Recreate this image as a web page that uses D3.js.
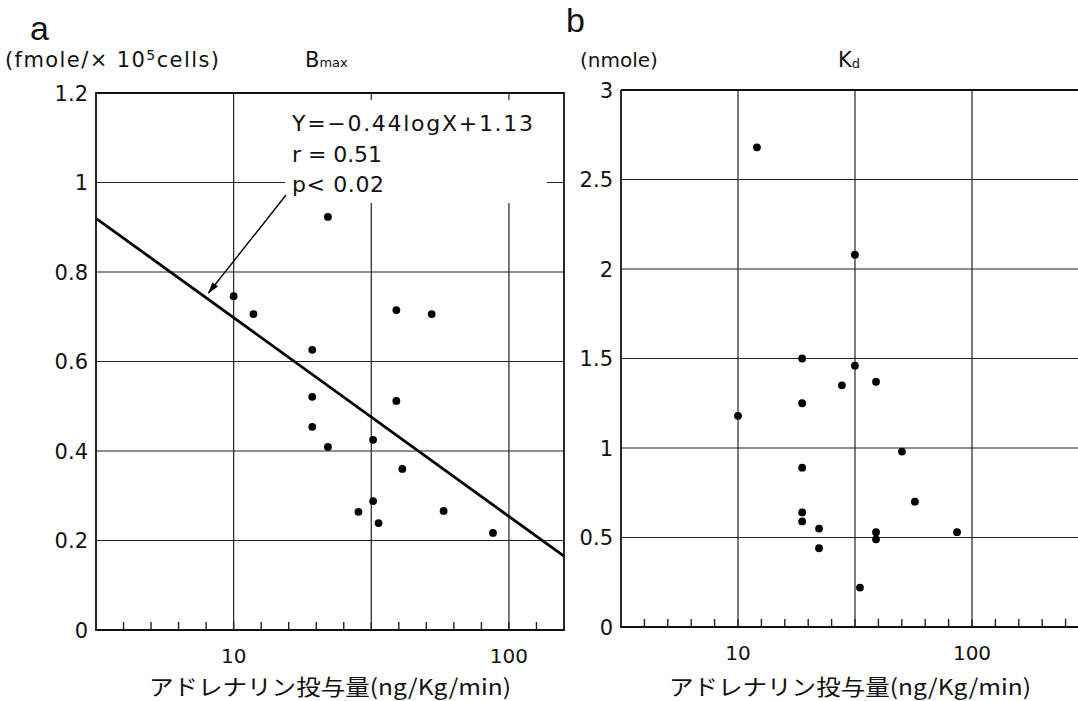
<!DOCTYPE html>
<html><head><meta charset="utf-8">
<script src="https://cdn.jsdelivr.net/npm/d3@7"></script>
<style>
html,body{margin:0;padding:0;background:#fff;}
text{font-family:"DejaVu Sans","Noto Sans",sans-serif;fill:#111;}
.jp{font-family:"Noto Sans CJK JP",sans-serif;}
</style></head>
<body><svg id="c" width="1078" height="701"></svg>
<script>
// ---- data ----
const bmaxDose  = [10, 11.8, 19.3, 19.3, 19.3, 22, 22, 32.1, 32.1, 33.6, 28.4, 39, 39, 41, 52.4, 57.9, 87.5];
const bmaxValue = [0.746, 0.706, 0.626, 0.521, 0.454, 0.409, 0.923, 0.425, 0.288, 0.239, 0.264, 0.715, 0.512, 0.36, 0.706, 0.266, 0.217];
const kdDose  = [12.05, 31.6, 18.8, 31.6, 27.8, 38.9, 18.8, 10, 18.8, 50.2, 57, 18.8, 18.8, 22.2, 22.2, 38.9, 38.9, 86.3, 33.2];
const kdValue = [2.68, 2.08, 1.50, 1.46, 1.35, 1.37, 1.25, 1.18, 0.89, 0.98, 0.70, 0.64, 0.59, 0.55, 0.44, 0.53, 0.49, 0.53, 0.22];
const fitDose  = [3.162, 158.5];
const fitValue = [0.92, 0.165];
const arrowFrom = [15.5, 0.972];
const arrowTo   = [8.1, 0.753];
const gridDose = [10, 31.62, 100];
const xTickValues = [10, 100];
const xTickLabels = ["10", "100"];
const bmaxTicks = [0, 0.2, 0.4, 0.6, 0.8, 1, 1.2];
const kdTicks = [0, 0.5, 1, 1.5, 2, 2.5, 3];
const fitText = ["Y=\u22120.44logX+1.13", "r = 0.51", "p< 0.02"];
const fitTextWidth = [241, 90, 92];
const xTitle = "アドレナリン投与量(ng/Kg/min)";

const svg = d3.select("#c");

function panel(o){
  const g = svg.append("g");
  const x = d3.scaleLog().domain(o.xdom).range(o.xr);
  const y = d3.scaleLinear().domain(o.ydom).range(o.yr);
  g.selectAll(".hg").data(o.yticks.filter(v=>v!==o.ydom[0])).join("line")
    .attr("x1", o.xr[0]).attr("x2", o.xr[1]).attr("y1", d=>y(d)).attr("y2", d=>y(d))
    .attr("stroke","#222").attr("stroke-width",1.2);
  g.selectAll(".vg").data(gridDose).join("line")
    .attr("x1", d=>x(d)).attr("x2", d=>x(d)).attr("y1", o.yr[0]).attr("y2", o.yr[1])
    .attr("stroke","#222").attr("stroke-width",1.2);
  const lo = Math.log10(o.xdom[0]), hi = Math.log10(o.xdom[1]);
  const minor = d3.range(Math.round(lo*10)+1, Math.round(hi*10)).map(k=>Math.pow(10,k/10));
  g.selectAll(".mt").data(minor).join("line")
    .attr("x1", d=>x(d)).attr("x2", d=>x(d)).attr("y1", o.yr[0]).attr("y2", o.yr[0]-8)
    .attr("stroke","#222").attr("stroke-width",1.4);
  g.append("path").attr("d",`M${o.xr[0]},${o.yr[1]}V${o.yr[0]}H${o.xr[1]}` + (o.right? `V${o.yr[1]}Z`:`M${o.xr[0]},${o.yr[1]}H${o.xr[1]}`))
    .attr("fill","none").attr("stroke","#111").attr("stroke-width",1.8);
  g.selectAll(".yl").data(o.yticks).join("text")
    .attr("x", o.xr[0]-8).attr("y", d=>y(d)).attr("dy","0.36em")
    .attr("text-anchor","end").attr("font-size",21).text(d=>d3.format("")(d));
  g.selectAll(".xl").data(xTickValues).join("text")
    .attr("x", d=>x(d)).attr("y", o.yr[0]+33)
    .attr("text-anchor","middle").attr("font-size",20).text((d,i)=>xTickLabels[i]);
  g.append("text").attr("class","jp").attr("x", o.titleX).attr("y", 695)
    .attr("text-anchor","middle").attr("font-size",22)
    .attr("textLength",362).attr("lengthAdjust","spacingAndGlyphs").text(xTitle);
  return {g,x,y};
}

// ---- panel a ----
const A = panel({xdom:[Math.pow(10,0.5), Math.pow(10,2.2)], xr:[96,564], ydom:[0,1.2], yr:[630,93],
  yticks:bmaxTicks, right:true, titleX:330});
A.g.append("rect").attr("x",285).attr("y",100).attr("width",262).attr("height",103).attr("fill","#fff");
A.g.append("path").datum(fitDose.map((d,i)=>[d,fitValue[i]]))
  .attr("d", d3.line().x(d=>A.x(d[0])).y(d=>A.y(d[1])))
  .attr("stroke","#000").attr("stroke-width",2.8).attr("fill","none");
A.g.selectAll(".pt").data(bmaxDose).join("circle")
  .attr("cx", d=>A.x(d)).attr("cy", (d,i)=>A.y(bmaxValue[i])).attr("r",3.9).attr("fill","#000");
A.g.selectAll(".ann").data(fitText).join("text")
  .attr("x",292).attr("y",(d,i)=>131+i*30.5).attr("font-size",22)
  .attr("textLength",(d,i)=>fitTextWidth[i]).attr("lengthAdjust","spacing").text(d=>d);
svg.append("defs").append("marker").attr("id","ah").attr("viewBox","0 0 12 8").attr("refX",11).attr("refY",4)
  .attr("markerWidth",12).attr("markerHeight",8).attr("markerUnits","userSpaceOnUse").attr("orient","auto")
  .append("path").attr("d","M0,0.5L12,4L0,7.5Z").attr("fill","#000");
A.g.append("line").attr("x1",A.x(arrowFrom[0])).attr("y1",A.y(arrowFrom[1]))
  .attr("x2",A.x(arrowTo[0])).attr("y2",A.y(arrowTo[1]))
  .attr("stroke","#000").attr("stroke-width",1.4).attr("marker-end","url(#ah)");

// ---- panel b ----
const B = panel({xdom:[Math.pow(10,0.5), Math.pow(10,2.5)], xr:[621,1089], ydom:[0,3], yr:[627,90],
  yticks:kdTicks, right:false, titleX:850});
B.g.selectAll(".pt").data(kdDose).join("circle")
  .attr("cx", d=>B.x(d)).attr("cy", (d,i)=>B.y(kdValue[i])).attr("r",3.9).attr("fill","#000");

// ---- headings ----
svg.append("text").attr("x",30).attr("y",40).attr("font-size",34)
  .style("font-family","'Liberation Sans',sans-serif").text("a");
svg.append("text").attr("x",566).attr("y",32).attr("font-size",34)
  .style("font-family","'Liberation Sans',sans-serif").text("b");
const u = svg.append("text").attr("x",5).attr("y",67).attr("font-size",21)
  .attr("textLength",214).attr("lengthAdjust","spacing");
u.append("tspan").text("(fmole/\u00d7 10");
u.append("tspan").attr("dy",-7).attr("font-size",14).text("5");
u.append("tspan").attr("dy",7).text("cells)");
const bm = svg.append("text").attr("x",305).attr("y",67).attr("font-size",21);
bm.append("tspan").text("B");
bm.append("tspan").attr("font-size",13).text("max");
svg.append("text").attr("x",580).attr("y",67).attr("font-size",20).text("(nmole)");
const kd = svg.append("text").attr("x",838).attr("y",67).attr("font-size",21);
kd.append("tspan").text("K");
kd.append("tspan").attr("font-size",13).attr("dy",1).text("d");
</script></body></html>
